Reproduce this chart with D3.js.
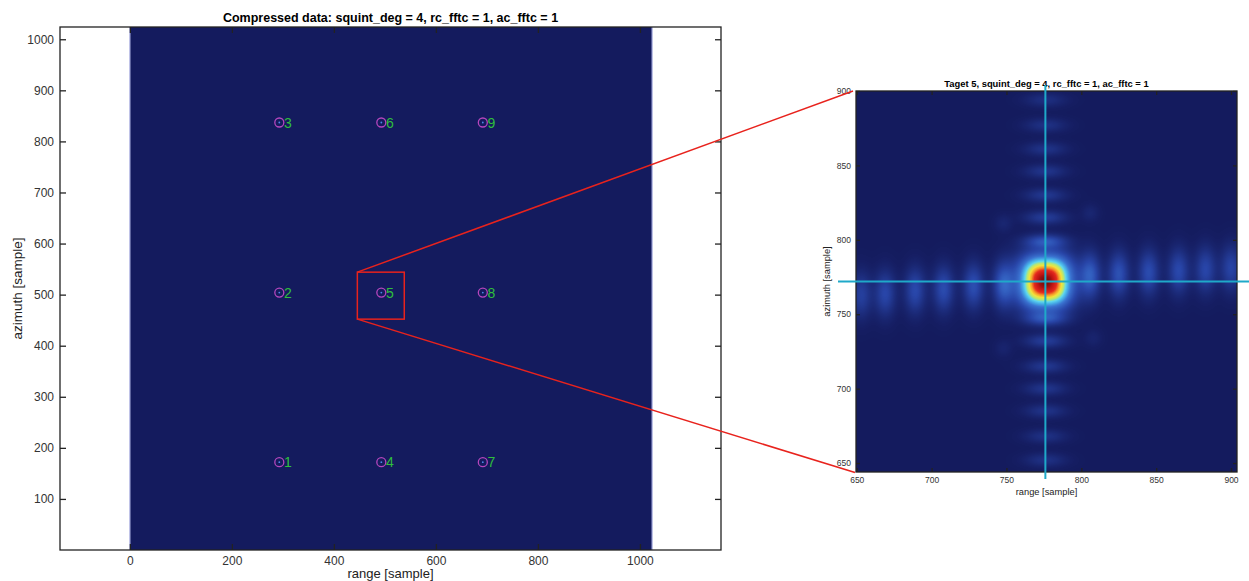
<!DOCTYPE html>
<html>
<head>
<meta charset="utf-8" />
<title>compressed data</title>
<script src="https://cdn.jsdelivr.net/npm/d3@7"></script>
<style>
  body { margin: 0; background: #fff; }
  svg { display: block; font-family: "Liberation Sans", Arial, Helvetica, sans-serif; }
</style>
</head>
<body>
<svg id="chart" width="1249" height="581"></svg>
<script>
// ---- data ----
var leftTitle = 'Compressed data: squint_deg = 4, rc_fftc = 1, ac_fftc = 1';
var rightTitle = 'Taget 5, squint_deg = 4, rc_fftc = 1, ac_fftc = 1';
var xLabel = 'range [sample]', yLabel = 'azimuth [sample]';

var leftXTicks = [0, 200, 400, 600, 800, 1000];
var leftYTicks = [100, 200, 300, 400, 500, 600, 700, 800, 900, 1000];
var rightTicks = [650, 700, 750, 800, 850, 900];

var imageRange = [0, 1024], imageAzimuth = [0, 1024];

var targetIds     = [1, 2, 3, 4, 5, 6, 7, 8, 9];
var targetRange   = [293, 293, 293, 493, 493, 493, 692, 692, 692];
var targetAzimuth = [172, 504, 837, 172, 504, 837, 172, 504, 837];

var zoomBoxRange = [446, 538], zoomBoxAzimuth = [452, 544];

// zoomed target 5
var peakRange = 776, peakAzimuth = 772;
// range sidelobes (a slightly tilted row through the peak)
var rangeLobeRange   = [653, 669, 689, 708, 728, 748, 806, 825, 845, 865, 883, 900];
var rangeLobeAzimuth = [763, 764, 766, 767, 769, 770, 776, 777, 778, 779, 780, 781];
var rangeLobeAmp     = [0.17, 0.2, 0.21, 0.22, 0.23, 0.27, 0.27, 0.24, 0.22, 0.21, 0.2, 0.19];
// azimuth sidelobes (column through the peak)
var azLobeAzimuth = [894, 877, 861, 846, 830, 815, 799, 747, 732, 715, 700, 685, 668, 652];
var azLobeRange   = [776, 776, 776, 776, 776, 776, 776, 776, 776, 776, 776, 776, 776, 776];
var azLobeAmp     = [0.09, 0.1, 0.11, 0.12, 0.13, 0.15, 0.22, 0.2, 0.15, 0.13, 0.12, 0.11, 0.1, 0.1];
// faint off-axis spots
var spotRange   = [748, 806, 748, 808];
var spotAzimuth = [811, 818, 727, 734];
var spotAmp     = [0.05, 0.05, 0.04, 0.04];

// ---- layout ----
var svg = d3.select('#chart');
var navy = '#141b5e';

var xL = d3.scaleLinear().domain([-137, 1159]).range([60, 721]);
var yL = d3.scaleLinear().domain([0, 1024]).range([550, 27]);
var xR = d3.scaleLinear().domain([649.5, 904]).range([856, 1237]);
var yR = d3.scaleLinear().domain([644, 900]).range([472, 91]);

// ---- left panel ----
var gL = svg.append('g');
gL.append('rect')
  .attr('x', xL(imageRange[0])).attr('y', yL(imageAzimuth[1]))
  .attr('width', xL(imageRange[1]) - xL(imageRange[0]))
  .attr('height', yL(imageAzimuth[0]) - yL(imageAzimuth[1]))
  .attr('fill', navy);
// light edge of the image
[imageRange[0], imageRange[1]].forEach(function (r) {
  gL.append('line')
    .attr('x1', xL(r)).attr('x2', xL(r))
    .attr('y1', yL(imageAzimuth[1])).attr('y2', yL(imageAzimuth[0]))
    .attr('stroke', '#b4b8e6').attr('stroke-width', 1.2);
});

function frame(g, x, y, tick, pad, xt, yt, fs) {
  var x0 = x.range()[0], x1 = x.range()[1], y0 = y.range()[0], y1 = y.range()[1];
  var fmt = d3.format('d');
  var ax = g.append('g').attr('transform', 'translate(0,' + y0 + ')')
    .call(d3.axisBottom(x).tickValues(xt).tickSize(-tick).tickPadding(pad).tickFormat(fmt));
  var at = g.append('g').attr('transform', 'translate(0,' + y1 + ')')
    .call(d3.axisTop(x).tickValues(xt).tickSize(-tick).tickFormat(''));
  var ay = g.append('g').attr('transform', 'translate(' + x0 + ',0)')
    .call(d3.axisLeft(y).tickValues(yt).tickSize(-tick).tickPadding(pad).tickFormat(fmt));
  var ar = g.append('g').attr('transform', 'translate(' + x1 + ',0)')
    .call(d3.axisRight(y).tickValues(yt).tickSize(-tick).tickFormat(''));
  [ax, at, ay, ar].forEach(function (a) {
    a.select('.domain').remove();
    a.selectAll('line').attr('stroke', '#222').attr('stroke-width', 1.3);
    a.selectAll('text').attr('fill', '#333').style('font-size', fs + 'px')
      .style('font-family', '"Liberation Sans", Arial, sans-serif');
  });
  g.append('rect').attr('x', x0).attr('y', y1)
    .attr('width', x1 - x0).attr('height', y0 - y1)
    .attr('fill', 'none').attr('stroke', '#222').attr('stroke-width', 1.3);
}

// targets
var tg = gL.selectAll('g.tgt').data(targetIds).enter().append('g').attr('class', 'tgt');
tg.append('circle')
  .attr('cx', function (d, i) { return xL(targetRange[i]); })
  .attr('cy', function (d, i) { return yL(targetAzimuth[i]); })
  .attr('r', 4.5).attr('fill', 'none').attr('stroke', '#b546bd').attr('stroke-width', 1.3);
tg.append('circle')
  .attr('cx', function (d, i) { return xL(targetRange[i]); })
  .attr('cy', function (d, i) { return yL(targetAzimuth[i]); })
  .attr('r', 0.9).attr('fill', '#4f86e6');
tg.append('text')
  .attr('x', function (d, i) { return xL(targetRange[i]) + 4.8; })
  .attr('y', function (d, i) { return yL(targetAzimuth[i]) + 5; })
  .attr('fill', '#2fbf3c').style('font-size', '14px')
  .text(function (d) { return d; });

frame(gL, xL, yL, 6, 6, leftXTicks, leftYTicks, 12);

gL.append('text').attr('x', (xL.range()[0] + xL.range()[1]) / 2).attr('y', 22)
  .attr('text-anchor', 'middle').style('font-weight', 'bold').style('font-size', '12.5px')
  .text(leftTitle);
gL.append('text').attr('x', (xL.range()[0] + xL.range()[1]) / 2).attr('y', 578)
  .attr('text-anchor', 'middle').attr('fill', '#222').style('font-size', '13px').text(xLabel);
gL.append('text')
  .attr('transform', 'translate(22,' + (yL.range()[0] + yL.range()[1]) / 2 + ') rotate(-90)')
  .attr('text-anchor', 'middle').attr('fill', '#222').style('font-size', '13.5px').text(yLabel);

// ---- right panel heatmap ----
var stops = [0, 0.2, 0.35, 0.45, 0.52, 0.6, 0.68, 0.76, 0.84, 0.93, 1];
var stopColors = ['#141b5e', '#2845a8', '#3a72d0', '#48b0e8', '#5fd6ee', '#b8e870',
  '#f4e23a', '#f59a2a', '#e52a1e', '#c01414', '#7a0c0c'];
var color = d3.scaleLinear().domain(stops).range(stopColors).clamp(true);
var lut = d3.range(256).map(function (k) { return d3.rgb(color(k / 255)); });

var lobes = [];
rangeLobeRange.forEach(function (r, i) {
  lobes.push({ r: r, a: rangeLobeAzimuth[i], amp: rangeLobeAmp[i], sr: 4.8, sa: 10.5 });
});
azLobeAzimuth.forEach(function (a, i) {
  lobes.push({ r: azLobeRange[i], a: a, amp: azLobeAmp[i], sr: 9.5, sa: 3.2 });
});
spotRange.forEach(function (r, i) {
  lobes.push({ r: r, a: spotAzimuth[i], amp: spotAmp[i], sr: 4, sa: 4 });
});

var px0 = xR.range()[0], py0 = yR.range()[1];
var W = Math.round(xR.range()[1] - px0), H = Math.round(yR.range()[0] - py0);
var canvas = document.createElement('canvas');
canvas.width = W; canvas.height = H;
var ctx = canvas.getContext('2d');
var img = ctx.createImageData(W, H);
for (var j = 0; j < H; j++) {
  var a = yR.invert(py0 + j + 0.5);
  for (var i = 0; i < W; i++) {
    var r = xR.invert(px0 + i + 0.5);
    // main lobe: slightly squared round peak
    var dx = Math.abs(r - peakRange), dy = Math.abs(a - peakAzimuth);
    var d = Math.pow(Math.pow(dx, 2.6) + Math.pow(dy, 2.6), 1 / 2.6);
    var v = Math.exp(-Math.pow(d / 16.6, 2.2));
    for (var k = 0; k < lobes.length; k++) {
      var L = lobes[k], dr = (r - L.r) / L.sr, da = (a - L.a) / L.sa;
      v += L.amp * Math.exp(-0.5 * (dr * dr + da * da));
    }
    var c = lut[Math.max(0, Math.min(255, Math.round(v * 255)))];
    var o = (j * W + i) * 4;
    img.data[o] = c.r; img.data[o + 1] = c.g; img.data[o + 2] = c.b; img.data[o + 3] = 255;
  }
}
ctx.putImageData(img, 0, 0);

var gR = svg.append('g');
gR.append('image').attr('x', px0).attr('y', py0).attr('width', W).attr('height', H)
  .attr('preserveAspectRatio', 'none').attr('href', canvas.toDataURL());

frame(gR, xR, yR, 4, 5, rightTicks, rightTicks, 8.5);

gR.append('text').attr('x', (xR.range()[0] + xR.range()[1]) / 2).attr('y', 86.5)
  .attr('text-anchor', 'middle').style('font-weight', 'bold').style('font-size', '9.4px')
  .text(rightTitle);
gR.append('text').attr('x', (xR.range()[0] + xR.range()[1]) / 2).attr('y', 495)
  .attr('text-anchor', 'middle').attr('fill', '#222').style('font-size', '9.3px').text(xLabel);
gR.append('text')
  .attr('transform', 'translate(830,' + (yR.range()[0] + yR.range()[1]) / 2 + ') rotate(-90)')
  .attr('text-anchor', 'middle').attr('fill', '#222').style('font-size', '9.3px').text(yLabel);

// crosshair on the peak
gR.append('line').attr('x1', xR(peakRange)).attr('x2', xR(peakRange))
  .attr('y1', 85).attr('y2', 479).attr('stroke', '#1fa9c9').attr('stroke-width', 2);
gR.append('line').attr('x1', 838).attr('x2', 1249)
  .attr('y1', yR(peakAzimuth)).attr('y2', yR(peakAzimuth))
  .attr('stroke', '#1fa9c9').attr('stroke-width', 2);

// ---- zoom box and connector lines ----
var red = '#e8231d';
var bx0 = xL(zoomBoxRange[0]), bx1 = xL(zoomBoxRange[1]);
var by0 = yL(zoomBoxAzimuth[1]), by1 = yL(zoomBoxAzimuth[0]);
svg.append('rect').attr('x', bx0).attr('y', by0).attr('width', bx1 - bx0).attr('height', by1 - by0)
  .attr('fill', 'none').attr('stroke', red).attr('stroke-width', 1.5);
svg.append('line').attr('x1', bx0).attr('y1', by0).attr('x2', 853).attr('y2', 91)
  .attr('stroke', red).attr('stroke-width', 1.5);
svg.append('line').attr('x1', bx0).attr('y1', by1).attr('x2', 855).attr('y2', 472.5)
  .attr('stroke', red).attr('stroke-width', 1.5);
</script>
</body>
</html>
